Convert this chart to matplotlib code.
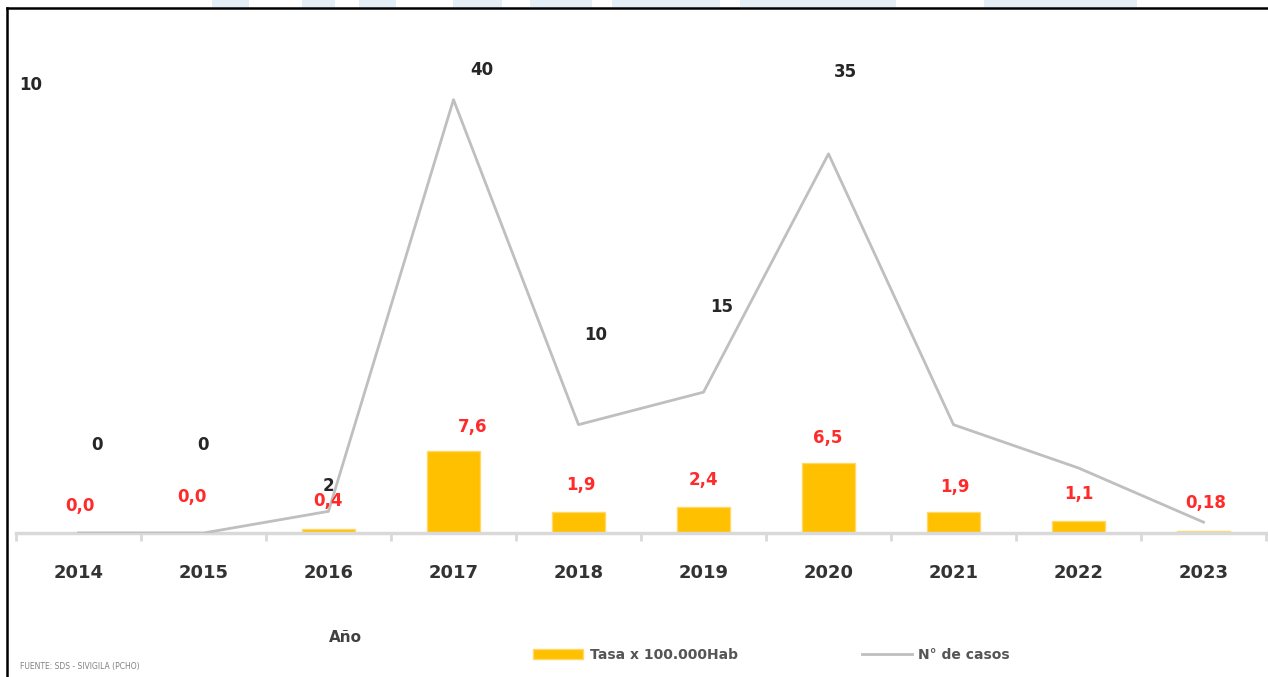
import matplotlib.pyplot as plt
from matplotlib.lines import Line2D
from matplotlib.patches import Rectangle

years = ['2014', '2015', '2016', '2017', '2018', '2019', '2020', '2021', '2022', '2023']
tasa = [0.0, 0.0, 0.4, 7.6, 1.9, 2.4, 6.5, 1.9, 1.1, 0.18]
casos = [0, 0, 2, 40, 10, 13, 35, 10, 6, 1]
tasa_labels = ['0,0', '0,0', '0,4', '7,6', '1,9', '2,4', '6,5', '1,9', '1,1', '0,18']
casos_labels = ['0', '0', '2', '40', '10', '15', '35', '', '', '']

# label offsets in pixels (dx, dy) from the data point
tasa_off = [(1, 27), (-12, 36), (0, 28), (19, 24), (2, 27), (0, 27), (-1, 25), (1, 25), (0, 27), (2, 28)]
casos_off = [(18, 88), (-1, 88), (0, 25), (28, 30), (17, 90), (18, 85), (17, 82), (0, 0), (0, 0), (0, 0)]

fig = plt.figure(figsize=(12.68, 6.77), dpi=100)
ax = fig.add_axes([16 / 1268, 144 / 677, 1250 / 1268, 520 / 677])

x = list(range(len(years)))
bars = ax.bar(x, tasa, width=0.42, color='#FFC000', edgecolor='#FFD966', linewidth=1,
              label='Tasa x 100.000Hab', zorder=2)
line, = ax.plot(x, casos, color='#BFBFBF', linewidth=2, label='N° de casos', zorder=3)

for i in x:
    ax.annotate(tasa_labels[i], (i, tasa[i]), xytext=tasa_off[i], textcoords='offset pixels',
                ha='center', va='center', color='#FF2A2A', fontsize=12, fontweight='bold',
                zorder=4, annotation_clip=False)
    if casos_labels[i]:
        ax.annotate(casos_labels[i], (i, casos[i]), xytext=casos_off[i], textcoords='offset pixels',
                    ha='center', va='center', color='#262626', fontsize=12, fontweight='bold',
                    zorder=4, annotation_clip=False)

# stray label top-left
ax.text(0.012, 0.8615, '10', transform=ax.transAxes, ha='center', va='center',
        color='#262626', fontsize=12, fontweight='bold')

ax.set_xlim(-0.5, 9.5)
ax.set_ylim(0, 48)
for s in ['top', 'right', 'left']:
    ax.spines[s].set_visible(False)
ax.spines['bottom'].set_color('#D9D9D9')
ax.spines['bottom'].set_linewidth(2.5)
ax.set_yticks([])
ax.set_xticks(x)
ax.set_xticklabels(years, fontsize=13, fontweight='bold', color='#333333')
ax.tick_params(axis='x', which='major', length=0, pad=22)
ax.set_xticks([i - 0.5 for i in range(len(years) + 1)], minor=True)
ax.tick_params(axis='x', which='minor', length=6, width=2, color='#D9D9D9', direction='out')

fig.text(345 / 1268, 1 - 638 / 677, 'Año', ha='center', va='center', fontsize=11,
         fontweight='bold', color='#404040')
fig.text(20 / 1268, 1 - 667 / 677, 'FUENTE: SDS - SIVIGILA (PCHO)', ha='left', va='center',
         fontsize=5.5, color='#808080')

fig.legend([bars, line], ['Tasa x 100.000Hab', 'N° de casos'], loc='center left',
           bbox_to_anchor=(533 / 1268, 1 - 655 / 677), ncol=2, frameon=False,
           prop={'size': 10, 'weight': 'bold'}, handlelength=3.6, handleheight=0.7,
           handletextpad=0.5, columnspacing=8.9, borderpad=0, borderaxespad=0,
           labelcolor='#555555')

# faint watermark strip and outer frame
for x0, x1 in [(212, 249), (302, 335), (359, 396), (453, 502), (530, 592), (612, 720),
               (740, 896), (984, 1137)]:
    fig.add_artist(Rectangle((x0 / 1268, 1 - 7 / 677), (x1 - x0) / 1268, 7 / 677,
                             transform=fig.transFigure, color='#E3EEF6', lw=0))
fig.add_artist(Line2D([7 / 1268, 1], [1 - 8 / 677, 1 - 8 / 677], transform=fig.transFigure,
                      color='black', linewidth=1.8))
fig.add_artist(Line2D([7 / 1268, 7 / 1268], [0, 1 - 8 / 677], transform=fig.transFigure,
                      color='black', linewidth=1.8))

fig.savefig('out.png', dpi=100)
